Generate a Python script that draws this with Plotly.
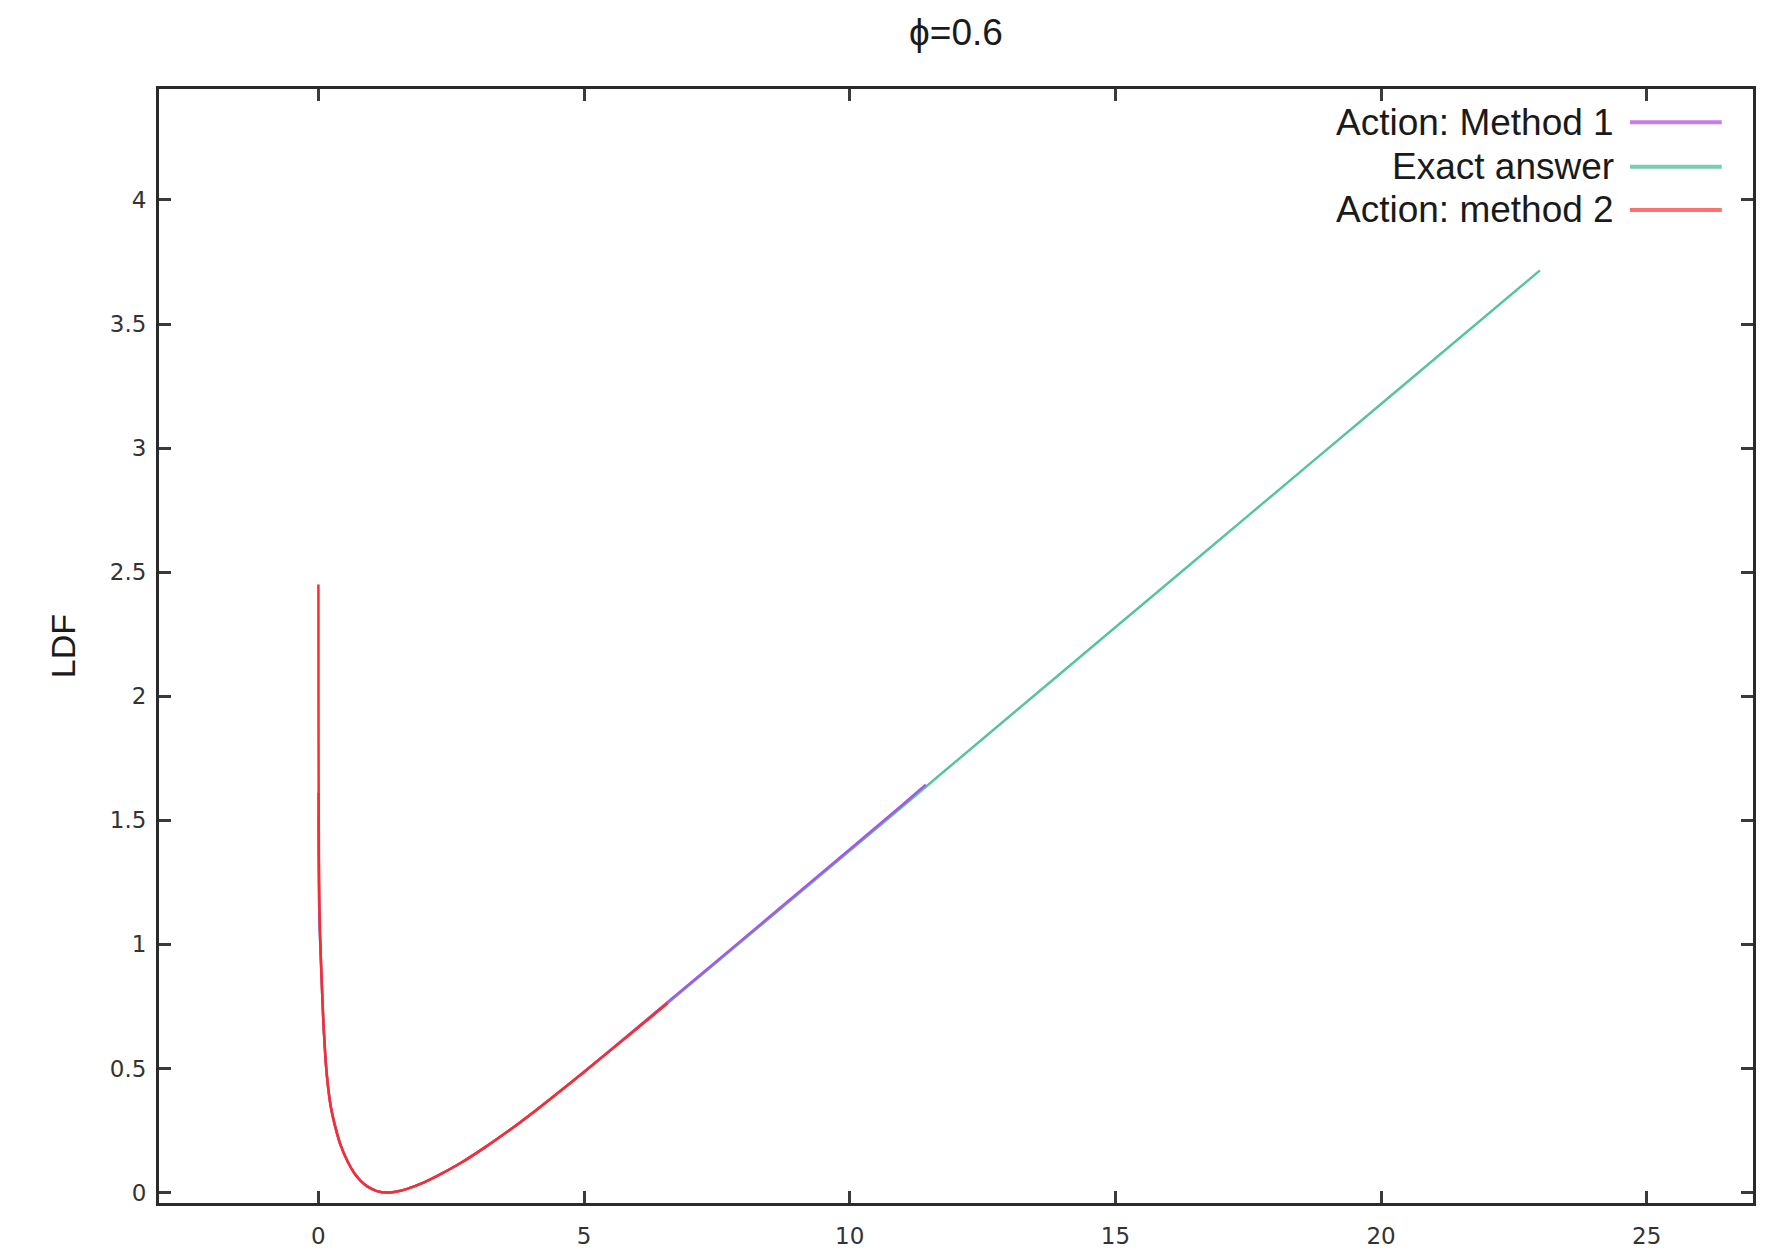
import plotly.graph_objects as go

# ---- data ----
x_m1 = [0.0, 0.005, 0.01, 0.02, 0.04, 0.075, 0.10, 0.14, 0.18, 0.23, 0.30, 0.42, 0.55, 0.67, 0.80, 0.92,
        1.10, 1.30, 1.50, 1.67, 2.00, 2.30, 2.70, 3.12, 3.60, 4.06, 4.50, 5.0, 5.94, 6.57, 7.82, 9.0,
        10.96, 11.43]
y_m1 = [1.61, 1.38, 1.24, 1.09, 0.98, 0.78, 0.66, 0.52, 0.43, 0.35, 0.28, 0.19, 0.125, 0.080, 0.046, 0.025,
        0.006, 0.0, 0.005, 0.015, 0.042, 0.074, 0.122, 0.180, 0.252, 0.326, 0.400, 0.487, 0.654, 0.767, 0.991,
        1.203, 1.557, 1.644]

x_ex = [0.0, 0.005, 0.01, 0.02, 0.04, 0.075, 0.10, 0.14, 0.18, 0.23, 0.30, 0.42, 0.55, 0.67, 0.80, 0.92,
        1.10, 1.30, 1.50, 1.67, 2.00, 2.30, 2.70, 3.12, 3.60, 4.06, 4.50, 5.0, 5.94, 6.57, 7.82, 9.0,
        10.96, 12.5, 15.0, 17.5, 20.0, 22.99]
y_ex = [1.52, 1.33, 1.22, 1.08, 0.97, 0.78, 0.66, 0.52, 0.43, 0.35, 0.28, 0.19, 0.125, 0.080, 0.046, 0.025,
        0.006, 0.0, 0.005, 0.015, 0.042, 0.074, 0.122, 0.180, 0.252, 0.326, 0.400, 0.486, 0.651, 0.763, 0.986,
        1.198, 1.550, 1.828, 2.278, 2.728, 3.178, 3.716]

x_m2 = [0.0, 0.002, 0.005, 0.01, 0.02, 0.04, 0.075, 0.10, 0.14, 0.18, 0.23, 0.30, 0.42, 0.55, 0.67, 0.80,
        0.92, 1.10, 1.30, 1.50, 1.67, 2.00, 2.30, 2.70, 3.12, 3.60, 4.06, 4.50, 5.0, 5.94, 6.57]
y_m2 = [2.45, 1.90, 1.60, 1.35, 1.15, 0.98, 0.78, 0.66, 0.52, 0.43, 0.35, 0.28, 0.19, 0.125, 0.080, 0.046,
        0.025, 0.006, 0.0, 0.005, 0.015, 0.042, 0.074, 0.122, 0.180, 0.252, 0.326, 0.400, 0.486, 0.651, 0.763]

series_names = ["Action: Method 1", "Exact answer", "Action: method 2"]
line_colors = ["#a855e8", "#55c4a2", "#ff2a2a"]
legend_colors = ["#c77cf0", "#78ccb0", "#ff7070"]

x_ticks = [0, 5, 10, 15, 20, 25]
y_ticks = [0, 0.5, 1, 1.5, 2, 2.5, 3, 3.5, 4]
y_tick_labels = ["0", "0.5", "1", "1.5", "2", "2.5", "3", "3.5", "4"]

FONT = "Liberation Sans, Arial, Helvetica, sans-serif"
TICKFONT = "DejaVu Sans, Liberation Sans, sans-serif"

# the page body adds an 8px offset; the figure is sized so it fills the window exactly
W, H = 1780, 1242

fig = go.Figure()
# draw order: exact answer underneath, method 1 over it, method 2 on top
series = [(x_ex, y_ex, 1), (x_m1, y_m1, 0), (x_m2, y_m2, 2)]
for xs, ys, i in series:
    fig.add_trace(go.Scatter(x=xs, y=ys, mode="lines", name=series_names[i],
                             line=dict(color=line_colors[i], width=2.5, shape="spline", smoothing=0.6),
                             showlegend=False))

# legend drawn gnuplot-style: right-aligned text, sample line on the right
leg_y = [0.9701, 0.9303, 0.8914]
for name, col, yy in zip(series_names, legend_colors, leg_y):
    fig.add_annotation(xref="paper", yref="paper", x=0.9140, y=yy, text=name,
                       showarrow=False, xanchor="right", yanchor="middle",
                       font=dict(family=FONT, size=37, color="#1a1a1a"))
    fig.add_shape(type="line", xref="paper", yref="paper", x0=0.9228, x1=0.9804, y0=yy, y1=yy,
                  line=dict(color=col, width=4))

axis_common = dict(showline=True, linecolor="#2b2b2b", linewidth=3, mirror="ticks",
                   ticks="inside", ticklen=12, tickwidth=2.5, tickcolor="#3a3a3a",
                   showgrid=False, zeroline=False, automargin=False,
                   tickfont=dict(family=TICKFONT, size=23, color="#333333"))

fig.update_layout(
    width=W, height=H,
    margin=dict(l=151, r=35, t=81, b=47),
    paper_bgcolor="white", plot_bgcolor="white",
    title=dict(text="ϕ=0.6", x=0.5, xref="paper", y=1 - 24 / H, yref="container",
               xanchor="center", yanchor="middle",
               font=dict(family=FONT, size=37, color="#1a1a1a")),
    xaxis=dict(range=[-3, 27], tickvals=x_ticks, ticklabelstandoff=10, **axis_common),
    yaxis=dict(range=[-0.042, 4.447], tickvals=y_ticks, ticktext=y_tick_labels,
               ticklabelstandoff=5,
               title=dict(text="LDF", standoff=24, font=dict(family=FONT, size=34, color="#1a1a1a")),
               **axis_common),
)

fig.write_html("out.html")
